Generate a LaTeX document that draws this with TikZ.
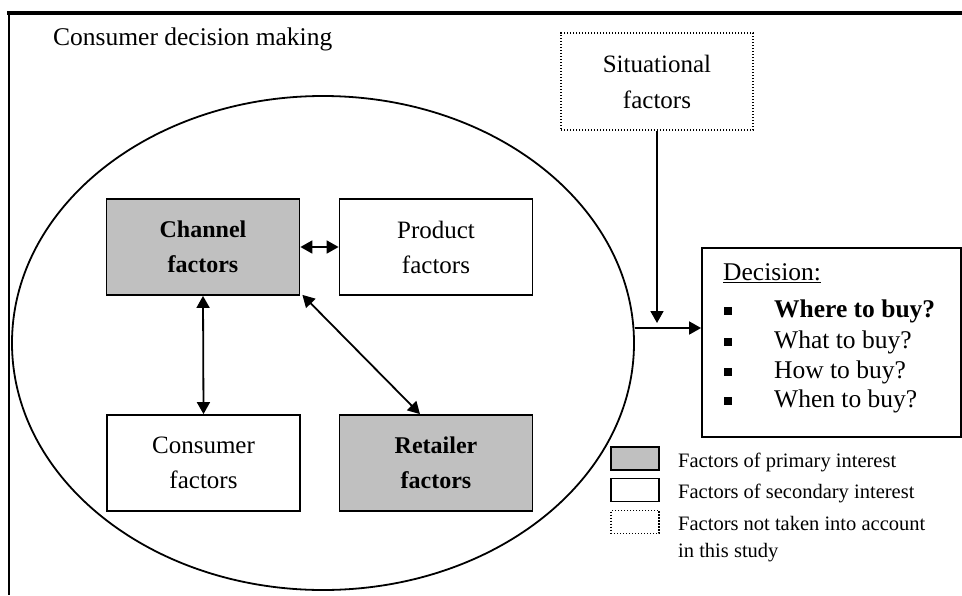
\documentclass[tikz,border=0pt]{standalone}
\usepackage{fontspec}
\setmainfont{Liberation Serif}
\usetikzlibrary{arrows.meta,shapes.geometric,calc}
\definecolor{boxgray}{HTML}{C0C0C0}
\begin{document}
\begin{tikzpicture}[x=1pt,y=-1pt,
  box/.style={draw,line width=1.8pt,minimum width=193pt,minimum height=96pt,inner sep=0pt,align=center,font=\fontsize{25}{35}\selectfont},
  primary/.style={box,fill=boxgray,font=\fontsize{24}{35}\selectfont\bfseries},
  dotbox/.style={draw,line width=1.4pt,dash pattern=on 1.4pt off 1.6pt},
  tip/.style={Triangle[length=12pt,width=13pt]},
  dbl/.style={{Triangle[length=12pt,width=13pt]}-{Triangle[length=12pt,width=13pt]},line width=1.8pt},
  one/.style={-{Triangle[length=12pt,width=13pt]},line width=1.8pt},
  txt/.style={anchor=base west,inner sep=0pt,font=\fontsize{25.5}{30}\selectfont},
  legtxt/.style={anchor=base west,inner sep=0pt,font=\fontsize{20.5}{30}\selectfont},
  legbox/.style={draw,line width=1.8pt,minimum width=48pt,minimum height=23pt,inner sep=0pt},
  bul/.style={fill=black,minimum size=7.5pt,inner sep=0pt}
]
\useasboundingbox (0,0) rectangle (962,595);
% frame
\draw[line width=3.2pt] (7.4,13) -- (962,13);
\draw[line width=2pt] (9,13) -- (9,595);
\node[txt] (title) at (53,45) {Consumer decision making};
% ellipse
\node[draw,ellipse,line width=1.8pt,minimum width=622pt,minimum height=494pt,inner sep=0pt] (cdm) at (323,343) {};
% boxes
\node[primary] (chan) at (203,247) {Channel\\factors};
\node[box] (prod) at (436,247) {Product\\factors};
\node[box] (cons) at (203.5,463) {Consumer\\factors};
\node[primary] (ret) at (436,463) {Retailer\\factors};
\draw[dbl] (chan.east) -- (prod.west);
\draw[dbl] (chan.south) -- (cons.north);
\draw[dbl] ([xshift=2pt,yshift=1pt]chan.south east) -- ([xshift=-16pt]ret.north);
% situational
\node[dotbox,minimum width=192pt,minimum height=97pt,align=center,font=\fontsize{25}{36}\selectfont] (sit) at (657,81.5) {Situational\\factors};
% decision
\node[draw,line width=1.8pt,minimum width=259pt,minimum height=189pt,inner sep=0pt] (dec) at (831.5,342.5) {};
\coordinate (out) at ($(cdm.east)+(0,-15)$);
\draw[one] (out) -- (dec.west |- out);
\coordinate (stip) at (657,323);
\draw[one] (sit.south) -- (stip);
\node[txt] (dh) at (723,280) {\underline{Decision:}};
\node[txt] (d1) at (774,317) {\textbf{Where to buy?}};
\node[txt] (d2) at (774,348) {What to buy?};
\node[txt] (d3) at (774,378) {How to buy?};
\node[txt] (d4) at (774,407) {When to buy?};
\node[bul] (b1) at (728,311) {};
\node[bul] (b2) at (728,342) {};
\node[bul] (b3) at (728,372) {};
\node[bul] (b4) at (728,401) {};
% legend
\node[legbox,fill=boxgray] (l1) at (635,458.5) {};
\node[legbox] (l2) at (635,490) {};
\node[dotbox,minimum width=48pt,minimum height=23pt,inner sep=0pt] (l3) at (635,522) {};
\node[legtxt] (t1) at (678,467) {Factors of primary interest};
\node[legtxt] (t2) at (678,498) {Factors of secondary interest};
\node[legtxt] (t3) at (678,530) {Factors not taken into account};
\node[legtxt] (t4) at (678,557) {in this study};
\end{tikzpicture}
\end{document}
